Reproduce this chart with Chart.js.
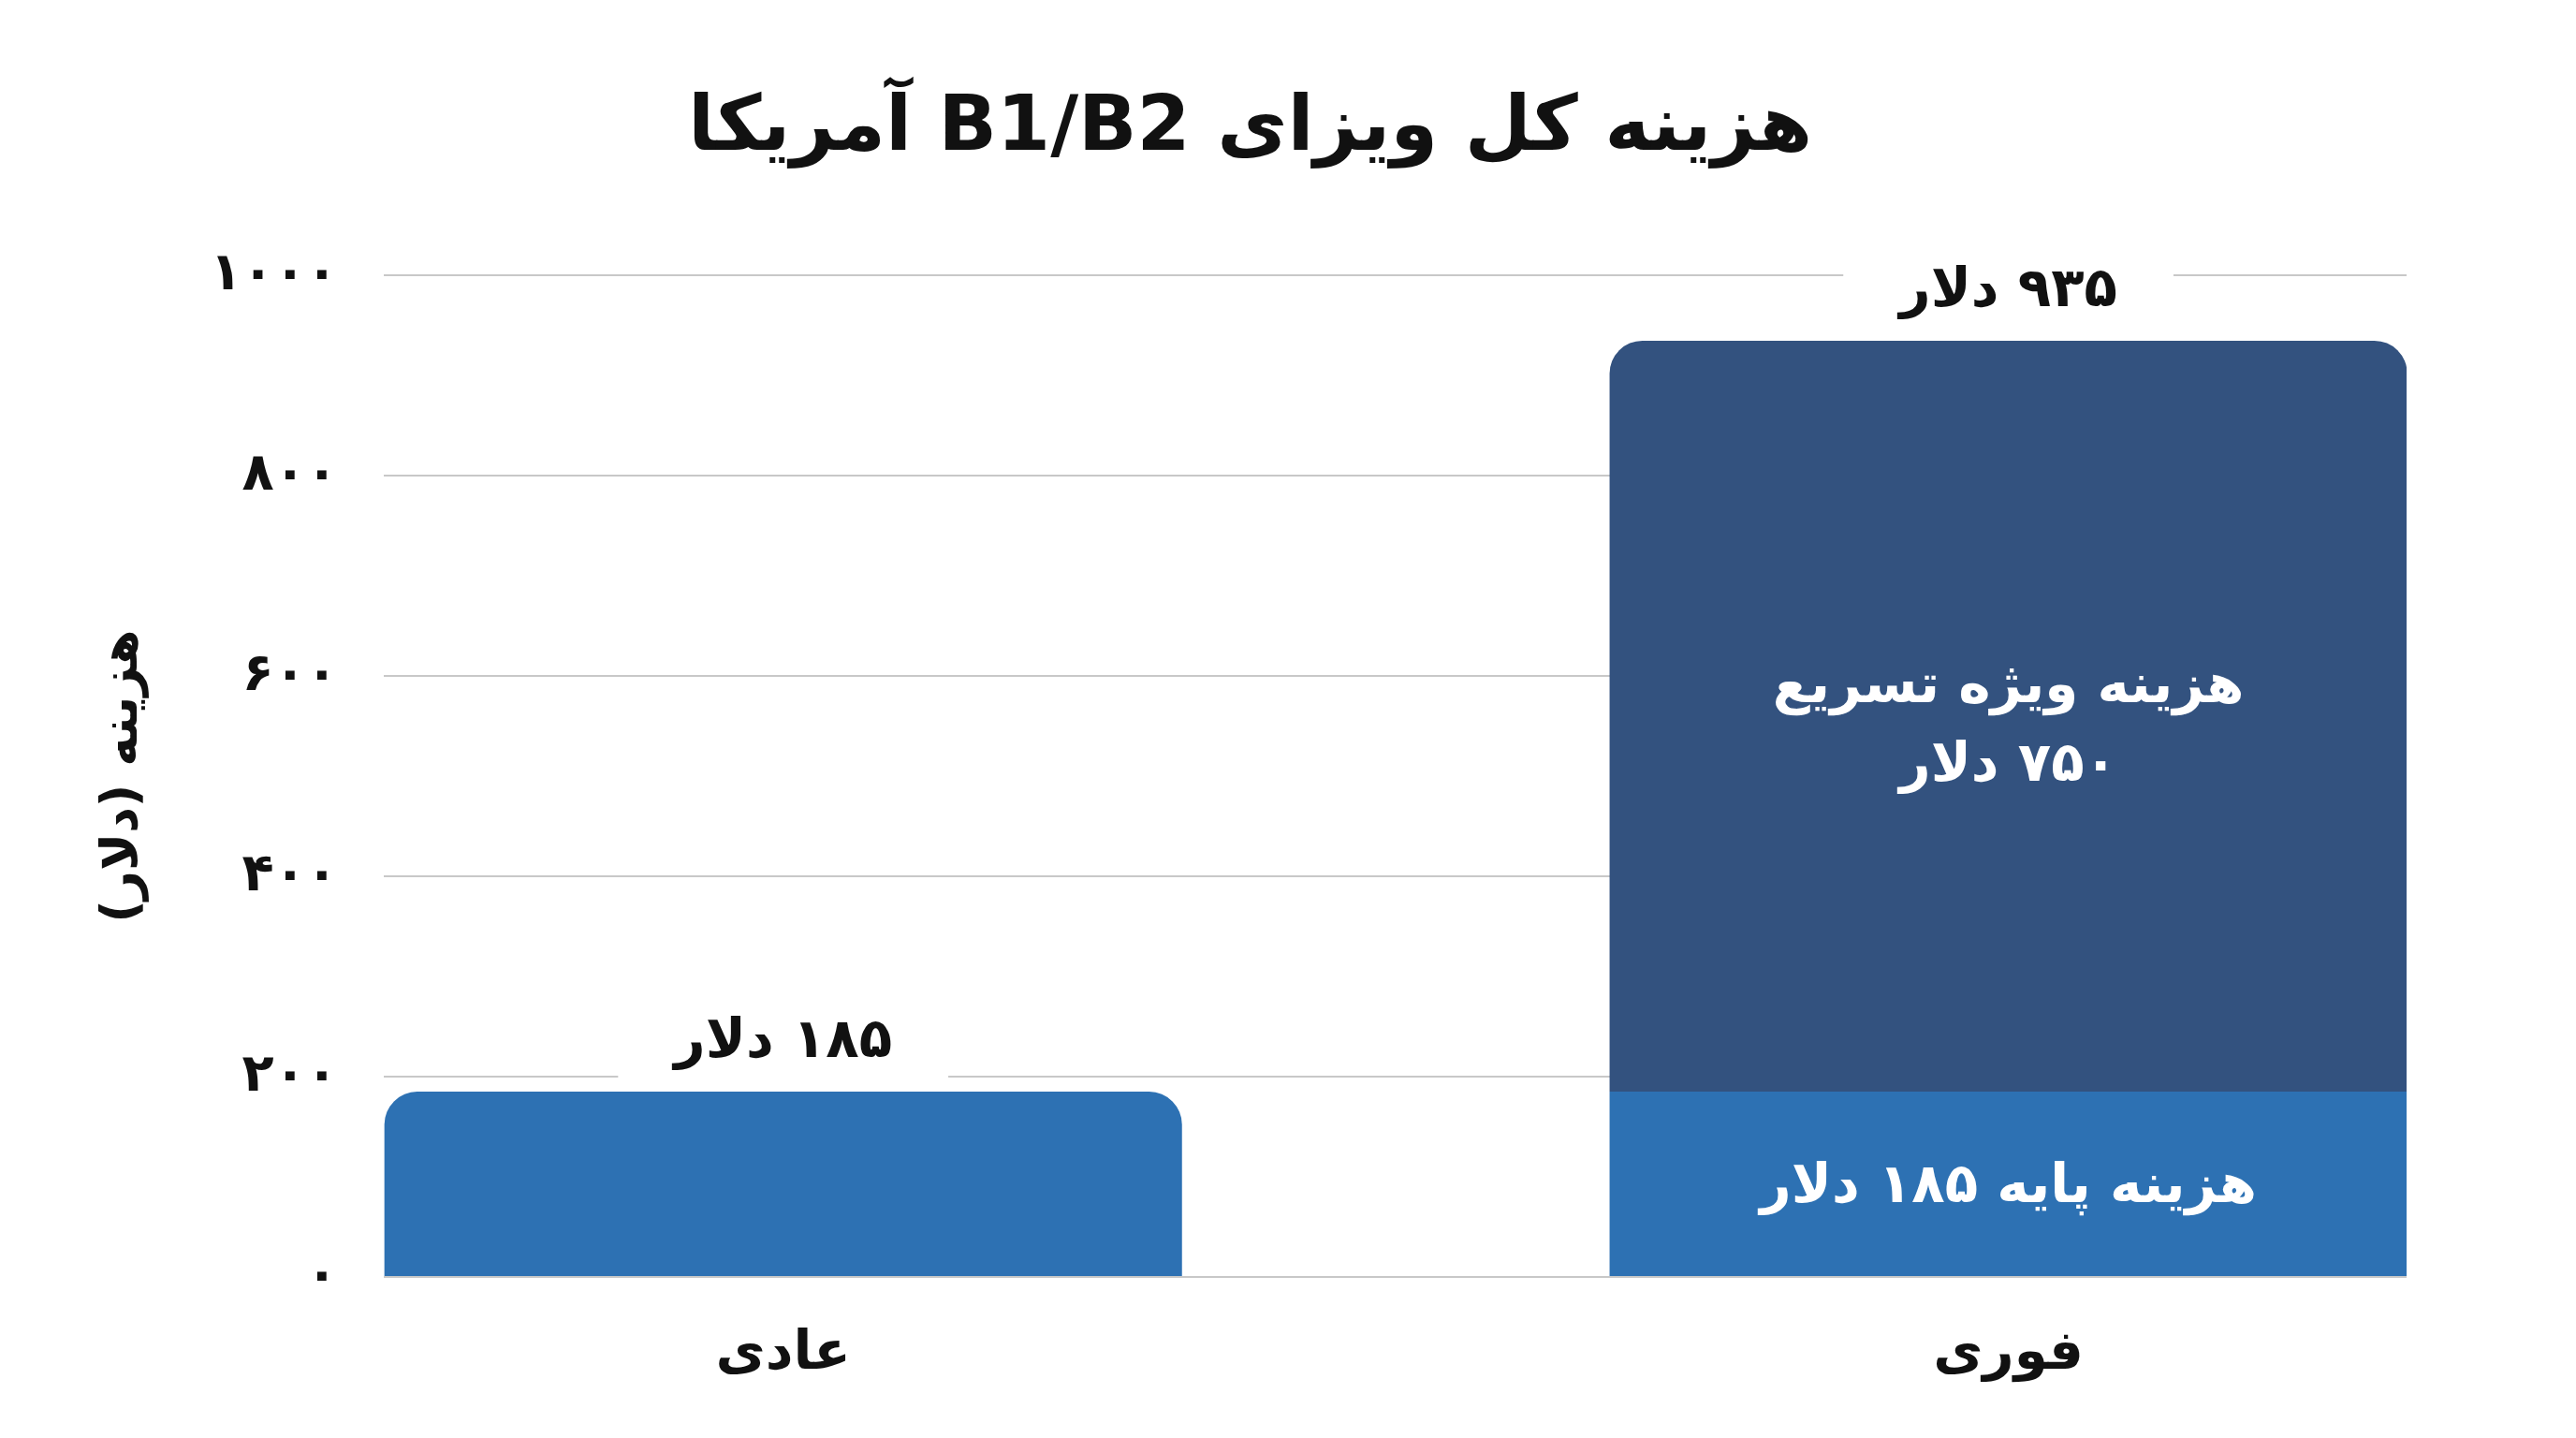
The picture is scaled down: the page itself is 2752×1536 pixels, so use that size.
<!DOCTYPE html>
<html lang="fa">

<head>
    <meta charset="UTF-8">
    <script src="https://cdn.jsdelivr.net/npm/chart.js"></script>
    <title>هزینه کل ویزای B1/B2 آمریکا</title>
    <style>
        body { margin: 0; background: #fff; }
        .grafico { width: 2752px; height: 1536px; }
    </style>
</head>

<body>
    <div class="grafico">
        <canvas id="graficoVisa" dir="rtl"></canvas>
    </div>
</body>

</html>

<script>
    // data
    var categorias = ['عادی', 'فوری']
    var hazinePaye = [185, 185]
    var hazineTasri = [null, 750]
    var nameSeries = ['هزینه پایه', 'هزینه ویژه تسریع']
    var yTicks = [0, 200, 400, 600, 800, 1000]
    var vahed = 'دلار'

    var faDigits = '۰۱۲۳۴۵۶۷۸۹'
    function fa(n) {
        return String(n).replace(/[0-9]/g, d => faDigits[d])
    }

    var fonte = '"DejaVu Sans", sans-serif'

    // labels drawn on and above the bars
    var rotulos = {
        id: 'rotulos',
        afterDatasetsDraw(chart) {
            var ctx = chart.ctx
            var metaPaye = chart.getDatasetMeta(0)
            var metaTasri = chart.getDatasetMeta(1)
            ctx.save()
            ctx.direction = 'rtl'
            ctx.textAlign = 'center'
            ctx.textBaseline = 'middle'
            ctx.font = 'bold 58px ' + fonte

            categorias.forEach((c, i) => {
                var total = (hazinePaye[i] || 0) + (hazineTasri[i] || 0)
                var topo = hazineTasri[i] ? metaTasri.data[i] : metaPaye.data[i]
                var txt = fa(total) + ' ' + vahed
                var w = ctx.measureText(txt).width + 120
                var y = topo.y - 52
                // white box cuts the gridline behind the label
                ctx.fillStyle = '#fff'
                ctx.fillRect(topo.x - w / 2, y - 45, w, 92)
                ctx.fillStyle = '#111'
                ctx.fillText(txt, topo.x, y)
            })

            // inside the stacked bar
            ctx.fillStyle = '#fff'
            var el = metaTasri.data[1]
            var meio = (el.y + el.base) / 2
            ctx.fillText(nameSeries[1], el.x, meio - 30)
            ctx.fillText(fa(hazineTasri[1]) + ' ' + vahed, el.x, meio + 54)

            var elP = metaPaye.data[1]
            ctx.fillText(nameSeries[0] + ' ' + fa(hazinePaye[1]) + ' ' + vahed, elP.x, (elP.y + elP.base) / 2 + 4)
            ctx.restore()
        }
    }

    var graficoVisa = new Chart(document.getElementById('graficoVisa').getContext('2d'), {
        type: 'bar',
        data: {
            datasets: [{
                label: nameSeries[0],
                data: hazinePaye.map((v, i) => ({ x: i, y: v })),
                backgroundColor: '#2D71B3',
                borderRadius: c => c.dataIndex === 0 ? { topLeft: 35, topRight: 35, bottomLeft: 0, bottomRight: 0 } : 0,
                borderSkipped: false,
                categoryPercentage: 1,
                barPercentage: 0.651
            },
            {
                label: nameSeries[1],
                data: hazineTasri.map((v, i) => ({ x: i, y: v })),
                backgroundColor: '#33527F',
                borderRadius: { topLeft: 35, topRight: 35, bottomLeft: 0, bottomRight: 0 },
                borderSkipped: false,
                categoryPercentage: 1,
                barPercentage: 0.651
            }]
        },
        options: {
            responsive: true,
            maintainAspectRatio: false,
            devicePixelRatio: 1,
            animation: false,
            layout: {
                padding: { left: 100, right: 181, top: 0, bottom: 0 }
            },
            plugins: {
                legend: { display: false },
                tooltip: { enabled: false },
                title: {
                    display: true,
                    text: 'هزینه کل ویزای B1/B2 آمریکا',
                    color: '#111',
                    font: { family: fonte, size: 82, weight: 'bold' },
                    padding: { top: 90, bottom: 106 }
                }
            },
            scales: {
                x: {
                    type: 'linear',
                    stacked: true,
                    offset: false,
                    bounds: 'data',
                    min: -0.326,
                    max: 1.325,
                    afterBuildTicks: s => { s.ticks = categorias.map((c, i) => ({ value: i })) },
                    afterFit: s => { s.height = 1536 - 1364 },
                    grid: { display: false, offset: false },
                    border: { display: false },
                    ticks: {
                        callback: v => categorias[v],
                        color: '#111',
                        padding: 40,
                        font: { family: fonte, size: 58, weight: 'bold' }
                    }
                },
                y: {
                    stacked: true,
                    min: 0,
                    max: 1000,
                    afterBuildTicks: s => { s.ticks = yTicks.map(v => ({ value: v })) },
                    afterFit: s => { s.width = 310 },
                    grid: { color: '#c8c8c8', lineWidth: 2, drawTicks: false },
                    border: { display: false },
                    ticks: {
                        callback: v => fa(v),
                        color: '#111',
                        padding: 49,
                        font: { family: fonte, size: 56, weight: 'bold' }
                    },
                    title: {
                        display: true,
                        text: 'هزینه (دلار)',
                        color: '#111',
                        padding: 0,
                        font: { family: fonte, size: 54, weight: 'bold' }
                    }
                }
            }
        },
        plugins: [rotulos]
    });
</script>
